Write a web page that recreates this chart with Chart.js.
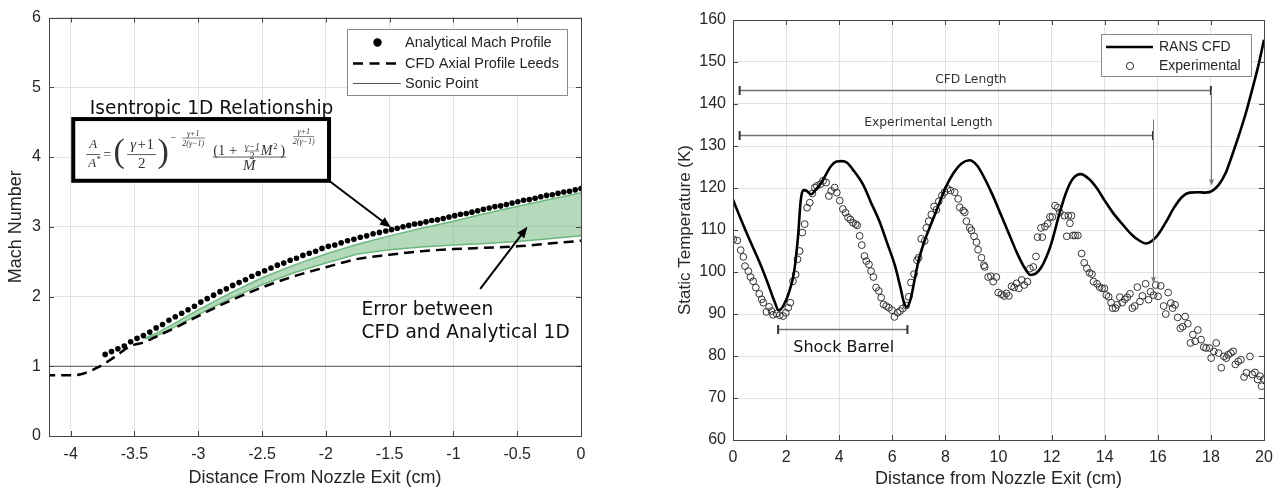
<!DOCTYPE html>
<html>
<head>
<meta charset="utf-8">
<script src="https://cdn.jsdelivr.net/npm/chart.js@4.4.1/dist/chart.umd.min.js"></script>
<style>
  html, body { margin: 0; padding: 0; background: #fff; }
  body { width: 1281px; height: 490px; position: relative; overflow: hidden; }
  .panel { position: absolute; top: 0; height: 490px; }
  #left-panel { left: 0; width: 640px; }
  #right-panel { left: 640px; width: 641px; }
</style>
</head>
<body>
<div class="panel" id="left-panel"><canvas id="chart-mach" width="640" height="490"></canvas></div>
<div class="panel" id="right-panel"><canvas id="chart-temp" width="641" height="490"></canvas></div>
<script>
// left panel - Mach number along the nozzle
const MACH_X = [-3.73, -3.68, -3.63, -3.58, -3.53, -3.48, -3.43, -3.38, -3.33, -3.28,
  -3.23, -3.18, -3.13, -3.08, -3.03, -2.98, -2.93, -2.88, -2.83, -2.78,
  -2.73, -2.68, -2.63, -2.58, -2.53, -2.48, -2.43, -2.38, -2.33, -2.28,
  -2.23, -2.18, -2.13, -2.08, -2.03, -1.98, -1.93, -1.88, -1.83, -1.78,
  -1.73, -1.68, -1.63, -1.58, -1.53, -1.485, -1.44, -1.395, -1.35, -1.305,
  -1.26, -1.215, -1.17, -1.125, -1.08, -1.035, -0.99, -0.945, -0.90, -0.855,
  -0.81, -0.765, -0.72, -0.675, -0.63, -0.585, -0.54, -0.495, -0.45, -0.405,
  -0.36, -0.315, -0.27, -0.225, -0.18, -0.135, -0.09, -0.045, 0];
const MACH_Y = [1.17, 1.21, 1.25, 1.29, 1.35, 1.40, 1.44, 1.49, 1.55, 1.60,
  1.66, 1.71, 1.76, 1.81, 1.86, 1.92, 1.97, 2.02, 2.07, 2.11,
  2.16, 2.20, 2.24, 2.29, 2.33, 2.37, 2.41, 2.45, 2.48, 2.52,
  2.55, 2.59, 2.62, 2.65, 2.69, 2.72, 2.74, 2.77, 2.80, 2.82,
  2.85, 2.87, 2.90, 2.92, 2.94, 2.96, 2.98, 3.00, 3.02, 3.04,
  3.05, 3.07, 3.09, 3.10, 3.12, 3.14, 3.16, 3.18, 3.19, 3.21,
  3.23, 3.25, 3.27, 3.29, 3.30, 3.32, 3.34, 3.36, 3.38, 3.39,
  3.41, 3.43, 3.45, 3.46, 3.48, 3.50, 3.51, 3.53, 3.55];
const CFD_X = [-4.2, -4.0, -3.92, -3.85, -3.78, -3.70, -3.62, -3.56, -3.50, -3.44, -3.38, -3.30, -3.15,
  -3.0, -2.75, -2.5, -2.25, -2.0, -1.75, -1.5, -1.25, -1.0, -0.75, -0.5, -0.25, 0];
const CFD_Y = [0.87, 0.87, 0.885, 0.93, 0.99, 1.08, 1.18, 1.26, 1.31, 1.335, 1.38, 1.45, 1.58,
  1.72, 1.94, 2.13, 2.29, 2.42, 2.54, 2.60, 2.65, 2.68, 2.70, 2.72, 2.76, 2.80];
const BAND_X = [-3.42, -3.3, -3.2, -3.0, -2.75, -2.5, -2.25, -2.0, -1.75, -1.5, -1.25, -1.0, -0.75, -0.5, -0.25, 0];
const BAND_UPPER = [1.40, 1.50, 1.60, 1.81, 2.05, 2.27, 2.45, 2.61, 2.75, 2.87, 2.98, 3.08, 3.19, 3.29, 3.39, 3.49];
const BAND_LOWER = [1.39, 1.46, 1.55, 1.74, 1.97, 2.17, 2.34, 2.48, 2.61, 2.67, 2.71, 2.74, 2.76, 2.79, 2.83, 2.87];
const SONIC_X = [-4.17, 0];
const SONIC_Y = [1, 1];
const MACH_X_TICKS = [-4, -3.5, -3, -2.5, -2, -1.5, -1, -0.5, 0];
const MACH_Y_TICKS = [0, 1, 2, 3, 4, 5, 6];

// right panel - static temperature
const RANS_X = [0, 0.3, 0.65, 1.0, 1.3, 1.55, 1.72, 1.9, 2.1, 2.3, 2.45, 2.55, 2.65, 2.75, 2.95, 3.1,
  3.3, 3.5, 3.7, 3.9, 4.1, 4.3, 4.5, 4.9, 5.2, 5.5, 5.8, 6.1, 6.3, 6.45, 6.55, 6.7,
  6.85, 7.0, 7.25, 7.5, 7.75, 8.0, 8.3, 8.6, 8.9, 9.2, 9.5, 9.8, 10.1, 10.4, 10.7, 11.0,
  11.2, 11.4, 11.6, 11.8, 12.0, 12.3, 12.55, 12.8, 13.1, 13.4, 13.7, 14.0, 14.3, 14.65, 15.0, 15.3,
  15.55, 15.8, 16.0, 16.3, 16.6, 16.9, 17.2, 17.5, 17.8, 18.05, 18.3, 18.55, 18.8, 19.0, 19.3, 19.6,
  19.8, 20.0];
const RANS_Y = [117.2, 112.5, 107.3, 102.3, 97.5, 93.2, 90.9, 92.0, 95.0, 100.0, 108.5, 117.0, 119.5, 119.4, 118.5, 119.5,
  121.0, 123.2, 125.3, 126.3, 126.4, 126.0, 124.5, 120.8, 116.5, 112.3, 107.0, 101.5, 96.5, 92.5, 91.7, 93.8,
  98.5, 103.0, 108.0, 112.0, 116.0, 120.0, 123.5, 125.8, 126.6, 125.3, 122.0, 118.0, 113.5, 109.0, 104.5, 100.8,
  99.3, 99.6, 101.0, 103.5, 107.0, 114.0, 119.0, 122.2, 123.3, 122.2, 120.0, 117.0, 114.2, 111.5, 109.0, 107.5,
  106.8, 107.5, 108.8, 111.8, 115.2, 117.8, 118.9, 119.0, 118.9, 119.3, 120.8, 123.5, 127.8, 131.5, 137.5, 144.5,
  149.5, 155.3];
const EXP_X = [0.01, 0.16, 0.29, 0.39, 0.45, 0.58, 0.66, 0.76, 0.86, 0.99, 1.08, 1.14, 1.26, 1.36, 1.45, 1.51,
  1.64, 1.76, 1.89, 1.99, 2.08, 2.16, 2.26, 2.36, 2.43, 2.51, 2.61, 2.70, 2.79, 2.89, 2.99, 3.08,
  3.16, 3.29, 3.39, 3.51, 3.61, 3.70, 3.83, 3.91, 4.02, 4.14, 4.24, 4.33, 4.42, 4.52, 4.62, 4.68,
  4.77, 4.85, 4.95, 5.02, 5.12, 5.20, 5.29, 5.39, 5.49, 5.58, 5.67, 5.77, 5.87, 5.99, 6.08, 6.20,
  6.29, 6.39, 6.52, 6.62, 6.70, 6.82, 6.93, 6.99, 7.09, 7.22, 7.28, 7.37, 7.47, 7.57, 7.66, 7.75,
  7.87, 7.97, 8.08, 8.20, 8.35, 8.48, 8.54, 8.67, 8.73, 8.79, 8.92, 8.98, 9.08, 9.17, 9.23, 9.36,
  9.45, 9.48, 9.61, 9.71, 9.80, 9.92, 9.99, 10.11, 10.21, 10.30, 10.39, 10.49, 10.59, 10.68, 10.77, 10.87,
  10.97, 11.09, 11.18, 11.31, 11.41, 11.47, 11.60, 11.65, 11.75, 11.85, 11.94, 12.03, 12.13, 12.23, 12.31, 12.48,
  12.57, 12.63, 12.69, 12.75, 12.81, 12.89, 12.99, 13.13, 13.23, 13.33, 13.43, 13.52, 13.58, 13.71, 13.81, 13.90,
  13.99, 14.06, 14.15, 14.24, 14.30, 14.41, 14.47, 14.57, 14.66, 14.76, 14.85, 14.95, 15.04, 15.13, 15.23, 15.33,
  15.42, 15.54, 15.65, 15.73, 15.84, 15.92, 16.01, 16.11, 16.22, 16.30, 16.39, 16.49, 16.56, 16.65, 16.75, 16.85,
  16.94, 17.03, 17.13, 17.23, 17.32, 17.41, 17.51, 17.63, 17.73, 17.82, 17.95, 18.01, 18.11, 18.20, 18.29, 18.39,
  18.49, 18.58, 18.65, 18.75, 18.84, 18.92, 19.03, 19.13, 19.25, 19.34, 19.47, 19.56, 19.66, 19.76, 19.85, 19.91,
  20.01];
const EXP_Y = [107.8, 107.5, 105.2, 103.6, 101.4, 100.2, 98.8, 97.8, 96.3, 94.8, 93.5, 92.7, 90.5, 91.7, 90.7, 89.8,
  90.1, 89.7, 89.5, 90.3, 91.5, 92.7, 97.8, 99.4, 103.0, 105.0, 109.4, 111.4, 115.3, 116.5, 118.7, 120.1,
  120.5, 120.9, 121.7, 121.3, 118.1, 119.3, 120.1, 118.9, 117.0, 115.0, 114.1, 113.0, 112.5, 111.7, 111.4, 111.1,
  108.6, 106.4, 103.8, 102.6, 101.8, 100.2, 98.8, 96.3, 95.5, 93.9, 92.3, 91.9, 91.5, 90.9, 89.3, 90.3,
  90.7, 91.3, 92.0, 94.1, 97.5, 99.5, 102.8, 103.4, 107.9, 107.4, 110.5, 112.1, 113.7, 115.6, 114.8, 116.8,
  118.2, 119.0, 119.8, 119.4, 119.0, 117.4, 115.4, 114.6, 114.2, 112.1, 110.5, 109.9, 108.5, 107.1, 105.3, 103.4,
  101.6, 101.2, 98.8, 99.0, 97.7, 98.8, 95.1, 94.7, 94.3, 94.9, 94.3, 96.6, 96.3, 97.3, 96.1, 98.1,
  96.9, 97.7, 100.8, 101.2, 103.7, 108.3, 110.5, 108.3, 110.8, 111.5, 113.1, 113.1, 115.8, 115.3, 114.2, 113.4,
  108.5, 113.4, 111.6, 113.4, 108.7, 108.7, 108.7, 104.4, 102.2, 100.9, 99.8, 99.5, 97.7, 97.2, 96.4, 96.1,
  96.1, 94.5, 94.1, 92.7, 91.4, 91.4, 92.2, 94.0, 92.7, 93.5, 94.0, 94.8, 91.4, 91.9, 96.4, 93.0,
  94.3, 97.2, 93.4, 95.3, 94.5, 96.9, 94.2, 96.7, 91.9, 90.0, 95.1, 92.6, 91.4, 92.2, 89.2, 86.6,
  87.0, 89.4, 87.7, 83.1, 85.1, 83.5, 86.2, 83.9, 82.1, 81.9, 81.9, 79.5, 81.1, 83.1, 80.7, 77.2,
  79.9, 79.5, 80.3, 80.7, 81.1, 78.0, 78.7, 79.1, 75.0, 76.0, 79.9, 75.6, 76.1, 74.4, 75.2, 72.8,
  74.5];
const TEMP_X_TICKS = [0, 2, 4, 6, 8, 10, 12, 14, 16, 18, 20];
const TEMP_Y_TICKS = [60, 70, 80, 90, 100, 110, 120, 130, 140, 150, 160];

const SANS = "'Liberation Sans', Arial, sans-serif";
const DEJAVU = "'DejaVu Sans', sans-serif";
const SERIF = "'Liberation Serif', 'DejaVu Serif', serif";
const AXIS_COLOR = '#454545';
const GRID_COLOR = '#e2e2e2';
const TEXT_COLOR = '#262626';
const TICK_LEN = 5;

const pts = (xs, ys) => xs.map((x, i) => ({ x, y: ys[i] }));

function makeScale(o) {
  return {
    type: 'linear',
    min: o.min, max: o.max,
    afterBuildTicks: s => { s.ticks = o.ticks.map(v => ({ value: v })); },
    afterFit: s => { if (o.width) s.width = o.width; if (o.height) s.height = o.height; },
    grid: { color: GRID_COLOR, lineWidth: 1, drawTicks: false },
    border: { display: false },
    ticks: { padding: o.tickPad, color: TEXT_COLOR, font: { family: SANS, size: 16 }, autoSkip: false, maxRotation: 0, callback: v => String(v) },
    title: { display: true, text: o.title, color: TEXT_COLOR, font: { family: SANS, size: o.titleSize }, padding: o.titlePad }
  };
}

// MATLAB style box with inward ticks on all four sides
const framePlugin = {
  id: 'frame',
  afterDatasetsDraw(chart) {
    const { ctx, chartArea: a, scales: { x, y } } = chart;
    ctx.save();
    ctx.strokeStyle = AXIS_COLOR;
    ctx.lineWidth = 1;
    ctx.beginPath();
    x.ticks.forEach(t => {
      const px = Math.round(x.getPixelForValue(t.value)) + 0.5;
      ctx.moveTo(px, a.bottom); ctx.lineTo(px, a.bottom - TICK_LEN);
      ctx.moveTo(px, a.top); ctx.lineTo(px, a.top + TICK_LEN);
    });
    y.ticks.forEach(t => {
      const py = Math.round(y.getPixelForValue(t.value)) + 0.5;
      ctx.moveTo(a.left, py); ctx.lineTo(a.left + TICK_LEN, py);
      ctx.moveTo(a.right, py); ctx.lineTo(a.right - TICK_LEN, py);
    });
    ctx.stroke();
    ctx.strokeRect(Math.round(a.left) + 0.5, Math.round(a.top) + 0.5, Math.round(a.right - a.left), Math.round(a.bottom - a.top));
    ctx.restore();
  }
};

function arrow(ctx, x1, y1, x2, y2, color, width, head, half) {
  const ang = Math.atan2(y2 - y1, x2 - x1);
  const c = Math.cos(ang), s = Math.sin(ang);
  ctx.strokeStyle = color; ctx.fillStyle = color; ctx.lineWidth = width;
  ctx.beginPath();
  ctx.moveTo(x1, y1);
  ctx.lineTo(x2 - c * head * 0.8, y2 - s * head * 0.8);
  ctx.stroke();
  ctx.beginPath();
  ctx.moveTo(x2, y2);
  ctx.lineTo(x2 - c * head + s * half, y2 - s * head - c * half);
  ctx.lineTo(x2 - c * head - s * half, y2 - s * head + c * half);
  ctx.closePath();
  ctx.fill();
}

function legendBox(ctx, x1, y1, x2, y2) {
  ctx.fillStyle = '#fff';
  ctx.fillRect(x1, y1, x2 - x1, y2 - y1);
  ctx.strokeStyle = '#8a8a8a'; ctx.lineWidth = 1;
  ctx.strokeRect(x1 + 0.5, y1 + 0.5, x2 - x1, y2 - y1);
}

function txt(ctx, s, x, y, font, align) {
  ctx.font = font;
  ctx.textAlign = align || 'center';
  ctx.fillText(s, x, y);
}

// A/A* = ((g+1)/2)^(-(g+1)/(2(g-1))) (1 + (g-1)/2 M^2)^((g+1)/(2(g-1))) / M
function drawFormula(ctx, bx, by) {
  ctx.save();
  ctx.fillStyle = '#333'; ctx.strokeStyle = '#333';
  ctx.textBaseline = 'middle';
  const it = s => `italic ${s}px ${SERIF}`, rm = s => `${s}px ${SERIF}`;
  const bar = (x1, x2, y, w) => { ctx.lineWidth = w; ctx.beginPath(); ctx.moveTo(bx + x1, by + y); ctx.lineTo(bx + x2, by + y); ctx.stroke(); };
  txt(ctx, 'A', bx + 20, by + 26, it(13));
  bar(13, 27, 35.5, 0.8);
  txt(ctx, 'A', bx + 19, by + 45, it(13));
  txt(ctx, '*', bx + 25.5, by + 41, rm(9));
  txt(ctx, '=', bx + 34, by + 36, rm(14));
  txt(ctx, '(', bx + 46, by + 34, rm(34));
  txt(ctx, 'γ', bx + 60, by + 26, it(15));
  txt(ctx, '+', bx + 68.5, by + 26, rm(15));
  txt(ctx, '1', bx + 77, by + 26, rm(15));
  bar(54, 83, 35.5, 0.8);
  txt(ctx, '2', bx + 68.5, by + 45, rm(15));
  txt(ctx, ')', bx + 90, by + 34, rm(34));
  // first exponent
  txt(ctx, '−', bx + 100, by + 19, rm(10));
  txt(ctx, 'γ+1', bx + 120, by + 14.5, it(8));
  bar(109, 132, 19, 0.6);
  txt(ctx, '2(γ−1)', bx + 120, by + 24.5, it(8));
  // second fraction
  txt(ctx, '(1 +', bx + 140, by + 32.5, rm(14.5), 'left');
  txt(ctx, 'γ−1', bx + 179, by + 28, it(9.5));
  bar(172, 186, 32, 0.6);
  txt(ctx, '2', bx + 179, by + 37, rm(9.5));
  txt(ctx, 'M', bx + 187.5, by + 32.5, it(14), 'left');
  txt(ctx, '2', bx + 202, by + 27.5, rm(9));
  txt(ctx, ')', bx + 209.5, by + 32, rm(15));
  bar(139.5, 213, 38, 0.8);
  txt(ctx, 'M', bx + 176, by + 47, it(15));
  // second exponent
  txt(ctx, 'γ+1', bx + 230.5, by + 13, it(8));
  bar(220, 241, 17.5, 0.6);
  txt(ctx, '2(γ−1)', bx + 230.5, by + 23, it(8));
  ctx.restore();
}

// annotations on the Mach chart (data units)
const NOTE_TITLE = { text: 'Isentropic 1D Relationship', x: -3.85, y: 4.615 };
const NOTE_BOX = { x1: -3.98, y1: 4.545, x2: -1.975, y2: 3.66 };
const NOTE_ARROW = { x1: -1.975, y1: 3.66, x2: -1.49, y2: 2.99 };
const ERR_LINES = ['Error between', 'CFD and Analytical 1D'];
const ERR_TEXT = { x: -1.72, y: [1.729, 1.405] };
const ERR_ARROW = { x1: -0.79, y1: 2.11, x2: -0.42, y2: 3.0 };

const machNotes = {
  id: 'machNotes',
  afterDraw(chart) {
    const { ctx, scales: { x, y } } = chart;
    const X = v => x.getPixelForValue(v), Y = v => y.getPixelForValue(v);
    ctx.save();
    // legend
    legendBox(ctx, 347, 29, 567, 95);
    ctx.fillStyle = '#000';
    ctx.beginPath(); ctx.arc(377.5, 42.5, 4.2, 0, Math.PI * 2); ctx.fill();
    ctx.strokeStyle = '#000'; ctx.lineWidth = 2.5; ctx.setLineDash([10, 6.5]);
    ctx.beginPath(); ctx.moveTo(353, 63.5); ctx.lineTo(401, 63.5); ctx.stroke();
    ctx.setLineDash([]);
    ctx.strokeStyle = '#555'; ctx.lineWidth = 1;
    ctx.beginPath(); ctx.moveTo(353, 83.5); ctx.lineTo(401, 83.5); ctx.stroke();
    ctx.fillStyle = TEXT_COLOR; ctx.textBaseline = 'middle';
    const lf = `14.5px ${SANS}`;
    txt(ctx, 'Analytical Mach Profile', 405, 43, lf, 'left');
    txt(ctx, 'CFD Axial Profile Leeds', 405, 64, lf, 'left');
    txt(ctx, 'Sonic Point', 405, 84, lf, 'left');

    // formula callout
    ctx.textBaseline = 'alphabetic';
    ctx.fillStyle = '#111';
    txt(ctx, NOTE_TITLE.text, X(NOTE_TITLE.x), Y(NOTE_TITLE.y), `18.6px ${DEJAVU}`, 'left');
    const bx1 = X(NOTE_BOX.x1), by1 = Y(NOTE_BOX.y1), bx2 = X(NOTE_BOX.x2), by2 = Y(NOTE_BOX.y2);
    ctx.fillStyle = '#fff'; ctx.fillRect(bx1, by1, bx2 - bx1, by2 - by1);
    ctx.strokeStyle = '#000'; ctx.lineWidth = 4;
    ctx.strokeRect(bx1, by1, bx2 - bx1, by2 - by1);
    drawFormula(ctx, bx1, by1);
    arrow(ctx, X(NOTE_ARROW.x1), Y(NOTE_ARROW.y1), X(NOTE_ARROW.x2), Y(NOTE_ARROW.y2), '#000', 2, 11, 4.5);

    // error note
    ctx.fillStyle = '#111'; ctx.textBaseline = 'alphabetic';
    ERR_LINES.forEach((s, i) => txt(ctx, s, X(ERR_TEXT.x), Y(ERR_TEXT.y[i]), `18.6px ${DEJAVU}`, 'left'));
    arrow(ctx, X(ERR_ARROW.x1), Y(ERR_ARROW.y1), X(ERR_ARROW.x2), Y(ERR_ARROW.y2), '#000', 2, 11, 4.5);
    ctx.restore();
  }
};

// annotations on the temperature chart (data units)
const SPANS = [
  { x1: 0.25, x2: 18.0, y: 143.3, label: 'CFD Length', lx: 8.96, ly: 145.8 },
  { x1: 0.25, x2: 15.82, y: 132.6, label: 'Experimental Length', lx: 7.36, ly: 135.5 },
  { x1: 1.70, x2: 6.57, y: 86.4 }
];
const DROPS = [{ x: 15.82, y1: 136.3, y2: 97.3 }, { x: 18.0, y1: 143.3, y2: 120.6 }];
const BARREL_LABEL = { text: 'Shock Barrel', x: 2.27, y: 81.0 };

const tempNotes = {
  id: 'tempNotes',
  afterDraw(chart) {
    const { ctx, scales: { x, y } } = chart;
    const X = v => x.getPixelForValue(v), Y = v => y.getPixelForValue(v);
    ctx.save();
    SPANS.forEach(s => {
      const py = Math.round(Y(s.y)) + 0.5;
      ctx.strokeStyle = '#707070'; ctx.lineWidth = 1.5;
      ctx.beginPath(); ctx.moveTo(X(s.x1), py); ctx.lineTo(X(s.x2), py); ctx.stroke();
      ctx.strokeStyle = '#333'; ctx.lineWidth = 2;
      ctx.beginPath();
      [s.x1, s.x2].forEach(v => { ctx.moveTo(X(v), py - 4.5); ctx.lineTo(X(v), py + 4.5); });
      ctx.stroke();
      if (s.label) {
        ctx.fillStyle = '#333'; ctx.textBaseline = 'middle';
        txt(ctx, s.label, X(s.lx), Y(s.ly), `12.3px ${DEJAVU}`);
      }
    });
    DROPS.forEach(d => arrow(ctx, Math.round(X(d.x)) + 0.5, Y(d.y1), Math.round(X(d.x)) + 0.5, Y(d.y2), '#777', 1, 6, 2.5));
    ctx.fillStyle = '#111'; ctx.textBaseline = 'alphabetic';
    txt(ctx, BARREL_LABEL.text, X(BARREL_LABEL.x), Y(BARREL_LABEL.y), `16px ${DEJAVU}`, 'left');

    // legend
    legendBox(ctx, 461, 34, 611, 76);
    ctx.strokeStyle = '#000'; ctx.lineWidth = 2.6;
    ctx.beginPath(); ctx.moveTo(466, 47); ctx.lineTo(513, 47); ctx.stroke();
    ctx.strokeStyle = '#333'; ctx.lineWidth = 1;
    ctx.beginPath(); ctx.arc(490, 66, 3.6, 0, Math.PI * 2); ctx.stroke();
    ctx.fillStyle = TEXT_COLOR; ctx.textBaseline = 'middle';
    txt(ctx, 'RANS CFD', 519, 47.5, `14px ${SANS}`, 'left');
    txt(ctx, 'Experimental', 519, 66.5, `14px ${SANS}`, 'left');
    ctx.restore();
  }
};

const common = {
  responsive: false,
  animation: false,
  events: [],
  plugins: { legend: { display: false }, tooltip: { enabled: false } }
};

new Chart(document.getElementById('chart-mach'), {
  type: 'scatter',
  data: {
    datasets: [
      { label: 'band upper', data: pts(BAND_X, BAND_UPPER), showLine: true, fill: '+1',
        backgroundColor: 'rgba(105,180,120,0.5)', borderColor: '#6fb880', borderWidth: 1.5, pointRadius: 0, order: 4 },
      { label: 'band lower', data: pts(BAND_X, BAND_LOWER), showLine: true, fill: false,
        borderColor: '#6fb880', borderWidth: 1.5, pointRadius: 0, order: 4 },
      { label: 'Sonic Point', data: pts(SONIC_X, SONIC_Y), showLine: true,
        borderColor: '#555', borderWidth: 1.2, pointRadius: 0, order: 3 },
      { label: 'CFD Axial Profile Leeds', data: pts(CFD_X, CFD_Y), showLine: true, cubicInterpolationMode: 'monotone',
        borderColor: '#000', borderWidth: 2.5, borderDash: [10, 6], pointRadius: 0, order: 2 },
      { label: 'Analytical Mach Profile', data: pts(MACH_X, MACH_Y), showLine: false,
        pointRadius: 2.8, pointBackgroundColor: '#000', pointBorderWidth: 0, order: 1 }
    ]
  },
  options: {
    ...common,
    layout: { padding: { left: 0, top: 16, right: 59, bottom: 0 } },
    scales: {
      x: makeScale({ min: -4.17, max: 0, ticks: MACH_X_TICKS, height: 54, tickPad: 9,
        title: 'Distance From Nozzle Exit (cm)', titleSize: 18, titlePad: { top: 0, bottom: 1 } }),
      y: makeScale({ min: 0, max: 6, ticks: MACH_Y_TICKS, width: 49, tickPad: 8,
        title: 'Mach Number', titleSize: 18, titlePad: { top: 5, bottom: 0 } })
    }
  },
  plugins: [framePlugin, machNotes]
});

new Chart(document.getElementById('chart-temp'), {
  type: 'scatter',
  data: {
    datasets: [
      { label: 'RANS CFD', data: pts(RANS_X, RANS_Y), showLine: true, cubicInterpolationMode: 'monotone',
        borderColor: '#000', borderWidth: 2.6, pointRadius: 0, order: 1 },
      { label: 'Experimental', data: pts(EXP_X, EXP_Y), showLine: false,
        pointRadius: 3.4, pointBorderColor: '#333', pointBorderWidth: 1, pointBackgroundColor: 'rgba(0,0,0,0)', order: 2 }
    ]
  },
  options: {
    ...common,
    layout: { padding: { left: 0, top: 20, right: 17, bottom: 0 } },
    scales: {
      x: makeScale({ min: 0, max: 20, ticks: TEMP_X_TICKS, height: 50, tickPad: 8,
        title: 'Distance from Nozzle Exit (cm)', titleSize: 18, titlePad: { top: 0, bottom: 0 } }),
      y: makeScale({ min: 60, max: 160, ticks: TEMP_Y_TICKS, width: 93, tickPad: 7,
        title: 'Static Temperature (K)', titleSize: 17, titlePad: { top: 35, bottom: 0 } })
    }
  },
  plugins: [framePlugin, tempNotes]
});
</script>
</body>
</html>
